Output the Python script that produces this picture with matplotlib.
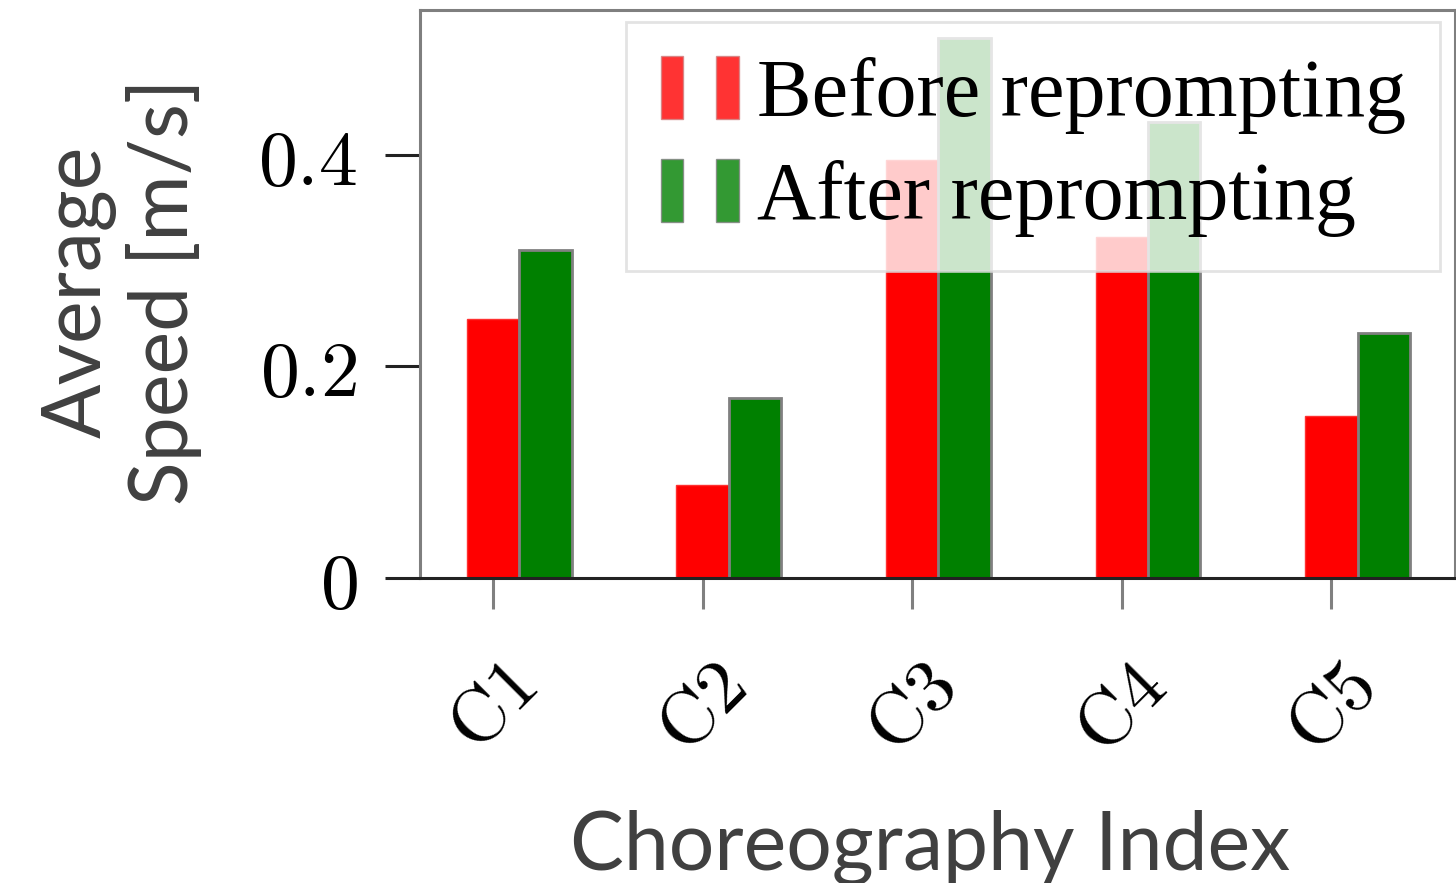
import numpy as np
import matplotlib
matplotlib.use("Agg")
import matplotlib.pyplot as plt
from matplotlib.patches import Patch
from matplotlib.legend_handler import HandlerTuple

plt.rcParams['mathtext.fontset'] = 'cm'

choreographies = ["C1", "C2", "C3", "C4", "C5"]
speed_before = [0.245, 0.088, 0.395, 0.322, 0.153]
speed_after = [0.310, 0.170, 0.511, 0.431, 0.232]
y_ticks = [0, 0.2, 0.4]
y_tick_labels = ["$0$", "$0.2$", "$0.4$"]

W, H = 1456, 883
fig = plt.figure(figsize=(W / 100, H / 100), dpi=100)
ax = fig.add_axes([420 / W, 1 - 578 / H, (1455 - 420) / W, (578 - 10) / H])

x = np.arange(len(choreographies))
width = 0.25
ax.bar(x, speed_before, width, color="red", edgecolor="#ff3030", linewidth=1)
ax.bar(x + width, speed_after, width, color="green", edgecolor="#808080", linewidth=2)

ax.set_xlim(-0.348, 4.59)
ax.set_ylim(0, 0.537)

ax.set_yticks(y_ticks)
ax.set_yticklabels(y_tick_labels, fontsize=56)
ax.set_xticks(x)
ax.set_xticklabels([r"$\mathrm{%s}$" % c for c in choreographies],
                   fontsize=55, rotation=45, ha="center", va="top")

ax.tick_params(axis="y", length=25, width=2.2, color="#222222", pad=20)
ax.tick_params(axis="x", length=22, width=2.2, color="#808080", pad=30)

for side in ["top", "left", "right"]:
    ax.spines[side].set_color("#7f7f7f")
    ax.spines[side].set_linewidth(2.2)
ax.spines["bottom"].set_color("#222222")
ax.spines["bottom"].set_linewidth(2.2)

# legend with a pair of small rectangles per entry
red_h = (Patch(facecolor="red", alpha=0.8, edgecolor="#d08080"),
         Patch(facecolor="red", alpha=0.8, edgecolor="#d08080"))
green_h = (Patch(facecolor="green", alpha=0.8, edgecolor="#808080"),
           Patch(facecolor="green", alpha=0.8, edgecolor="#808080"))
leg = ax.legend([red_h, green_h], ["Before reprompting", "After reprompting"],
                handler_map={tuple: HandlerTuple(ndivide=None, pad=0.4)},
                loc="upper right", bbox_to_anchor=(1440 / W, 1 - 22 / H),
                bbox_transform=fig.transFigure, borderaxespad=0,
                prop={"family": "Liberation Serif", "size": 59},
                handlelength=0.95, handleheight=0.8, handletextpad=0.22,
                labelspacing=0.3, borderpad=0.42, fancybox=False, framealpha=0.8)
leg.get_frame().set_edgecolor("#dcdcdc")
leg.get_frame().set_linewidth(2)

fig.text(930 / W, 1 - 870 / H, "Choreography Index", fontsize=58, family="Lato",
         color="#404040", ha="center", va="baseline")
fig.text(122 / W, 1 - 292 / H, "Average\nSpeed [m/s]", fontsize=58, family="Lato",
         color="#404040", ha="center", va="center", rotation=90,
         multialignment="center", linespacing=1.15)

fig.savefig("out.png", dpi=100)
